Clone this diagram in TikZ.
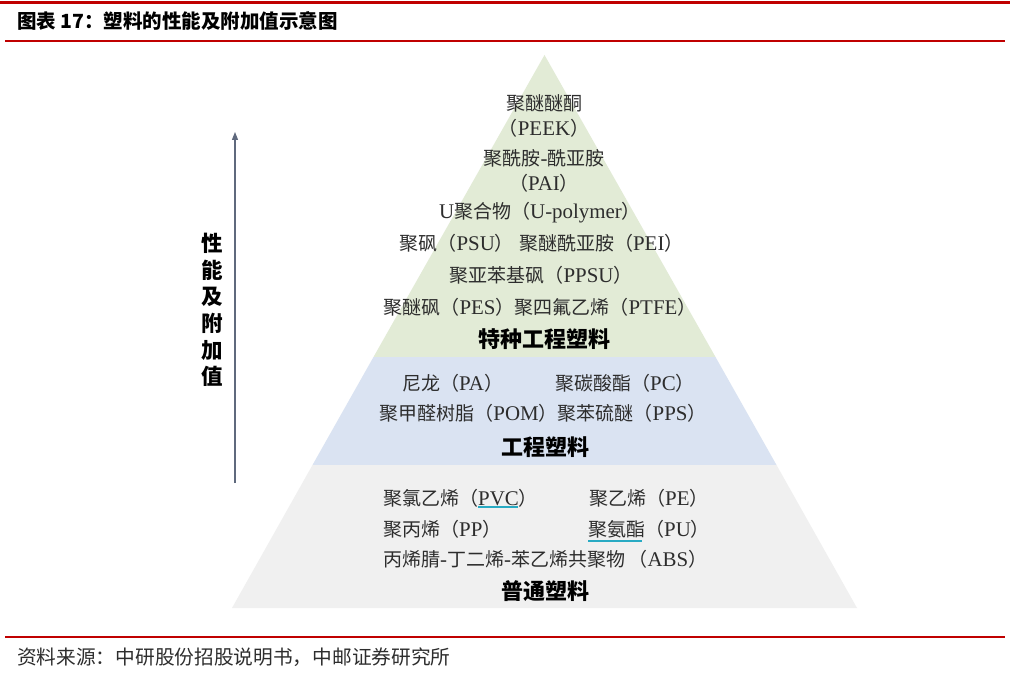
\documentclass[tikz,border=0pt]{standalone}
\usepackage{fontspec}
\setmainfont{Liberation Serif}[Scale=1.1]
\newfontfamily\cjk{Noto Sans CJK SC}
\newcommand{\zh}[1]{{\cjk #1}}
\usetikzlibrary{arrows.meta}
\definecolor{rulered}{RGB}{192,0,0}
\definecolor{bandgreen}{RGB}{226,235,214}
\definecolor{bandblue}{RGB}{218,227,242}
\definecolor{bandgray}{RGB}{240,240,240}
\definecolor{txt}{RGB}{45,45,45}
\definecolor{arrowgray}{RGB}{95,105,125}
\definecolor{spell}{RGB}{40,170,195}
\begin{document}
\begin{tikzpicture}[x=1pt,y=-1pt,
  item/.style={inner sep=0pt,text=txt,font=\fontsize{19}{22}\selectfont},
  cat/.style={inner sep=0pt,text=black,font=\cjk\bfseries\fontsize{22}{26}\selectfont},
  rule/.style={draw=rulered},
  spellmark/.style={draw=spell,line width=1.6pt}]
\useasboundingbox (0,0) rectangle (1010,674);
\fill[white] (0,0) rectangle (1010,674);
% rules
\coordinate (r1a) at (0,3); \coordinate (r1b) at (1010,3);
\draw[rule,line width=3pt] (r1a) -- (r1b);
\coordinate (r2a) at (5,41); \coordinate (r2b) at (1005,41);
\draw[rule,line width=1.2pt] (r2a) -- (r2b);
\coordinate (r3a) at (5,637); \coordinate (r3b) at (1005,637);
\draw[rule,line width=1.2pt] (r3a) -- (r3b);
% title and source
\node[anchor=west,inner sep=0pt,font=\cjk\bfseries\fontsize{19.5}{22}\selectfont] (title) at (17,21) {图表 17：塑料的性能及附加值示意图};
\node[anchor=west,inner sep=0pt,font=\cjk\fontsize{19.7}{22}\selectfont,text=txt] (source) at (17,657) {资料来源：中研股份招股说明书，中邮证券研究所};
% pyramid
\coordinate (apex) at (544.5,55);
\coordinate (gl) at (373.5,357); \coordinate (gr) at (715.5,357);
\coordinate (bl) at (312.5,465); \coordinate (br) at (776.5,465);
\coordinate (ll) at (232,608); \coordinate (lr) at (857,608);
\fill[bandgreen] (apex) -- (gr) -- (gl) -- cycle;
\fill[bandblue] (gl) -- (gr) -- (br) -- (bl) -- cycle;
\fill[bandgray] (bl) -- (br) -- (lr) -- (ll) -- cycle;
% arrow and axis label
\coordinate (abot) at (235,483); \coordinate (atop) at (235,132);
\draw[arrowgray,line width=1.1pt,-{Triangle[length=8pt,width=6pt]}] (abot) -- (atop);
\node[inner sep=0pt,align=center,font=\cjk\bfseries\fontsize{21.5}{26.6}\selectfont] (axis) at (212,310) {性\\能\\及\\附\\加\\值};
% special engineering plastics
\node[item] (peek1) at (544,103) {\zh{聚醚醚酮}};
\node[item] (peek2) at (544,128) {\zh{（}PEEK\zh{）}};
\node[item] (pai1) at (544,158) {\zh{聚酰胺}-\zh{酰亚胺}};
\node[item] (pai2) at (544,183) {\zh{（}PAI\zh{）}};
\node[item] (upol) at (540,213) {U\zh{聚合物（}U-polymer\zh{）}};
\node[item] (psu) at (541.5,243) {\zh{聚砜（}PSU\zh{）} \zh{聚醚酰亚胺（}PEI\zh{）}};
\node[item] (ppsu) at (541,275) {\zh{聚亚苯基砜（}PPSU\zh{）}};
\node[item] (pes) at (540,307) {\zh{聚醚砜（}PES\zh{）聚四氟乙烯（}PTFE\zh{）}};
\node[cat] (cat1) at (544,339) {特种工程塑料};
% engineering plastics
\node[item,anchor=west] (pa) at (402,383) {\zh{尼龙（}PA\zh{）}};
\node[item,anchor=west] (pc) at (555,383) {\zh{聚碳酸酯（}PC\zh{）}};
\node[item] (pom) at (543,413) {\zh{聚甲醛树脂（}POM\zh{）聚苯硫醚（}PPS\zh{）}};
\node[cat] (cat2) at (545,447) {工程塑料};
% general plastics
\node[item,anchor=west] (pvc) at (383,498) {\zh{聚氯乙烯（}PVC\zh{）}};
\node[item,anchor=west] (pe) at (589,498) {\zh{聚乙烯（}PE\zh{）}};
\node[item,anchor=west] (pp) at (383,529) {\zh{聚丙烯（}PP\zh{）}};
\node[item,anchor=west] (pu) at (588,529) {\zh{聚氨酯（}PU\zh{）}};
\node[item,anchor=west] (abs) at (383,559) {\zh{丙烯腈}-\zh{丁二烯}-\zh{苯乙烯共聚物}\,\zh{（}ABS\zh{）}};
\node[cat] (cat3) at (545,591) {普通塑料};
% spell-check underlines
\coordinate (u1a) at (478,507); \coordinate (u1b) at (518,507);
\draw[spellmark] (u1a) -- (u1b);
\coordinate (u2a) at (588,541); \coordinate (u2b) at (642,541);
\draw[spellmark] (u2a) -- (u2b);
\end{tikzpicture}
\end{document}
